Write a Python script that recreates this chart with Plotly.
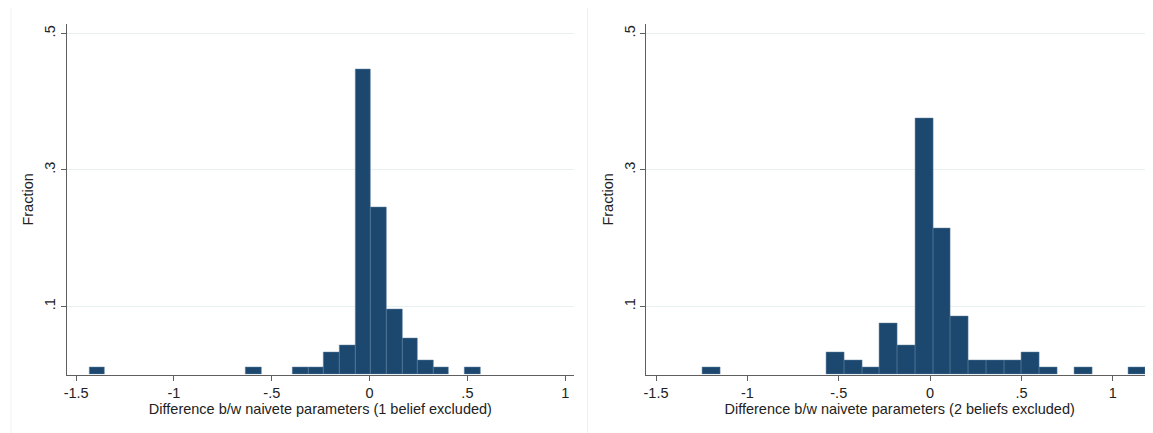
import plotly.graph_objects as go
from plotly.subplots import make_subplots

# ---- data (bin counts) ----
left_bin_start = -1.434
left_bin_width = 0.08
left_counts = [1, 0, 0, 0, 0, 0, 0, 0, 0, 0, 1, 0, 0, 1, 1, 3, 4, 42, 23, 9, 5, 2, 1, 0, 1]

right_bin_start = -1.247
right_bin_width = 0.0971
right_counts = [1, 0, 0, 0, 0, 0, 0, 3, 2, 1, 7, 4, 35, 20, 8, 2, 2, 2, 3, 1, 0, 1, 0, 0, 1]

x_tickvals = [-1.5, -1, -0.5, 0, 0.5, 1]
x_ticktext = ["-1.5", "-1", "-.5", "0", ".5", "1"]
y_tickvals = [0.1, 0.3, 0.5]
y_ticktext = [".1", ".3", ".5"]

left_title = "Difference b/w naivete parameters (1 belief excluded)"
right_title = "Difference b/w naivete parameters (2 beliefs excluded)"

BAR = "#1c4870"
EDGE = "#5d7d9a"
AXIS = "#5f5f5f"
GRID = "#e8f1f2"
FONT = "Liberation Sans, Arial, sans-serif"
FS = 14.5

# page body has an 8px margin: figure is placed at (8, 8)
OFF = 8
W, H = 1153 - OFF, 433 - OFF


def px_x(p):
    return (p - OFF) / W


def px_y(p):
    return 1 - (p - OFF) / H


def bars(start, width, counts):
    total = sum(counts)
    xs, ys = [], []
    for i, c in enumerate(counts):
        if c > 0:
            xs.append(start + (i + 0.5) * width)
            ys.append(c / total)
    return xs, ys


fig = make_subplots(rows=1, cols=2)

for col, (s, w, c) in enumerate([(left_bin_start, left_bin_width, left_counts),
                                   (right_bin_start, right_bin_width, right_counts)], start=1):
    xs, ys = bars(s, w, c)
    fig.add_trace(go.Bar(x=xs, y=ys, width=w,
                         marker=dict(color=BAR, line=dict(color=EDGE, width=0.5)),
                         showlegend=False), row=1, col=col)

ydom = [px_y(374.5), px_y(24.3)]
fig.update_layout(
    width=W, height=H,
    margin=dict(l=0, r=0, t=0, b=0),
    paper_bgcolor="white", plot_bgcolor="white",
    bargap=0,
    font=dict(family=FONT, size=FS, color="#222"),
    xaxis=dict(domain=[px_x(63.7), px_x(572.7)], range=[-1.549, 1.046]),
    xaxis2=dict(domain=[px_x(645), 1.0], range=[-1.553, 1.22]),
    yaxis=dict(domain=ydom),
    yaxis2=dict(domain=ydom),
)

for ax, title in [("xaxis", left_title), ("xaxis2", right_title)]:
    fig.layout[ax].update(
        tickmode="array", tickvals=x_tickvals, ticktext=x_ticktext,
        showline=True, linecolor=AXIS, linewidth=1,
        ticks="outside", ticklen=5, tickcolor=AXIS, tickwidth=1,
        showgrid=False, zeroline=False,
        tickfont=dict(size=FS, family=FONT, color="#222"),
        title=dict(text=title, font=dict(size=FS, family=FONT, color="#222"), standoff=3),
    )

for ax in ["yaxis", "yaxis2"]:
    fig.layout[ax].update(
        range=[0, 0.5135],
        tickmode="array", tickvals=y_tickvals, ticktext=y_ticktext,
        tickangle=-90,
        showline=True, linecolor=AXIS, linewidth=1,
        ticks="outside", ticklen=5, tickcolor=AXIS, tickwidth=1,
        showgrid=True, gridcolor=GRID, gridwidth=1, zeroline=False,
        tickfont=dict(size=FS, family=FONT, color="#222"),
        title=dict(text="Fraction", font=dict(size=FS, family=FONT, color="#222"), standoff=4),
    )

# faint outer borders of the graph regions
for x0 in [8, 586]:
    fig.add_shape(type="line", xref="paper", yref="paper",
                  x0=px_x(x0), x1=px_x(x0), y0=0, y1=px_y(8),
                  line=dict(color="#eef1f4", width=1))

fig.write_html("out.html")
